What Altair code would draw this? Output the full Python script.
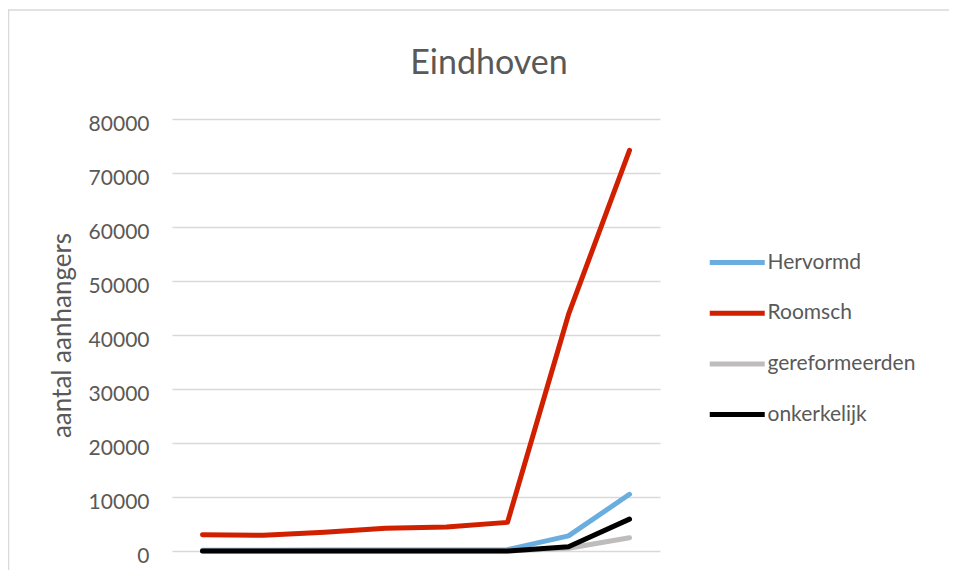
import altair as alt
import pandas as pd

years = ["1859", "1869", "1879", "1889", "1899", "1909", "1920", "1930"]
series_names = ["Hervormd", "Roomsch", "gereformeerden", "onkerkelijk"]
hervormd = [150, 150, 170, 180, 200, 250, 2800, 10500]
roomsch = [3000, 2900, 3450, 4200, 4450, 5300, 43800, 74200]
gereformeerden = [0, 0, 0, 0, 0, 10, 500, 2450]
onkerkelijk = [0, 0, 0, 0, 0, 0, 800, 5900]
colors = ["#6aaddf", "#d02000", "#bfbcbc", "#000000"]
y_ticks = [0, 10000, 20000, 30000, 40000, 50000, 60000, 70000, 80000]

rows = []
for name, vals in zip(series_names, [hervormd, roomsch, gereformeerden, onkerkelijk]):
    for yr, v in zip(years, vals):
        rows.append({"jaar": yr, "reeks": name, "aantal": v})
df = pd.DataFrame(rows)

W, H = 488, 432
PL, PT = 164, 111
TOTAL_W, TOTAL_H = 941, 562
FONT = "Lato"
GREY = "#595959"

frame = alt.Chart(pd.DataFrame({"a": [0]})).mark_rect(
    fill=None, stroke="#d9d9d9", strokeWidth=1.5
).encode(
    x=alt.value(-163.5), x2=alt.value(TOTAL_W),
    y=alt.value(-109), y2=alt.value(TOTAL_H + 50)
)

lines = alt.Chart(df).mark_line(strokeWidth=5, strokeCap="round", strokeJoin="round").encode(
    x=alt.X("jaar:N", sort=years, title=None,
            axis=alt.Axis(labels=False, ticks=False, domain=False, grid=False),
            scale=alt.Scale(paddingInner=0, paddingOuter=0.5)),
    y=alt.Y("aantal:Q", title="aantal aanhangers",
            scale=alt.Scale(domain=[0, 80000], nice=False),
            axis=alt.Axis(values=y_ticks, format="d", grid=True, gridColor="#d9d9d9",
                          gridWidth=1.5, domain=False, ticks=False, tickSize=0,
                          labelPadding=23, labelFont=FONT, labelFontSize=21,
                          labelColor=GREY, labelBaseline="alphabetic", labelOffset=11,
                          titleFont=FONT, titleFontSize=26, titleFontWeight="normal",
                          titleColor=GREY, titleX=-102, titleY=216,
                          titleBaseline="alphabetic", titleAngle=270)),
    color=alt.Color("reeks:N", sort=series_names,
                    scale=alt.Scale(domain=series_names, range=colors),
                    legend=alt.Legend(title=None, orient="none", legendX=535, legendY=127,
                                      symbolType="M-1,0H3", symbolSize=756,
                                      symbolStrokeWidth=5, labelOffset=27.5,
                                      labelFont=FONT, labelFontSize=21, labelColor=GREY,
                                      rowPadding=23.7)),
)

chart = alt.layer(frame, lines).properties(
    width=W, height=H,
    title=alt.TitleParams("Eindhoven", font=FONT, fontSize=34, fontWeight="normal",
                          color=GREY, anchor="middle", frame="group", baseline="alphabetic",
                          offset=0, dx=73, dy=99),
    autosize=alt.AutoSizeParams(type="none"),
    padding={"left": PL, "top": PT, "right": TOTAL_W - PL - W, "bottom": TOTAL_H - PT - H},
).configure_view(stroke=None)

chart.save("out.html", embed_options={"renderer": "svg", "actions": False})
